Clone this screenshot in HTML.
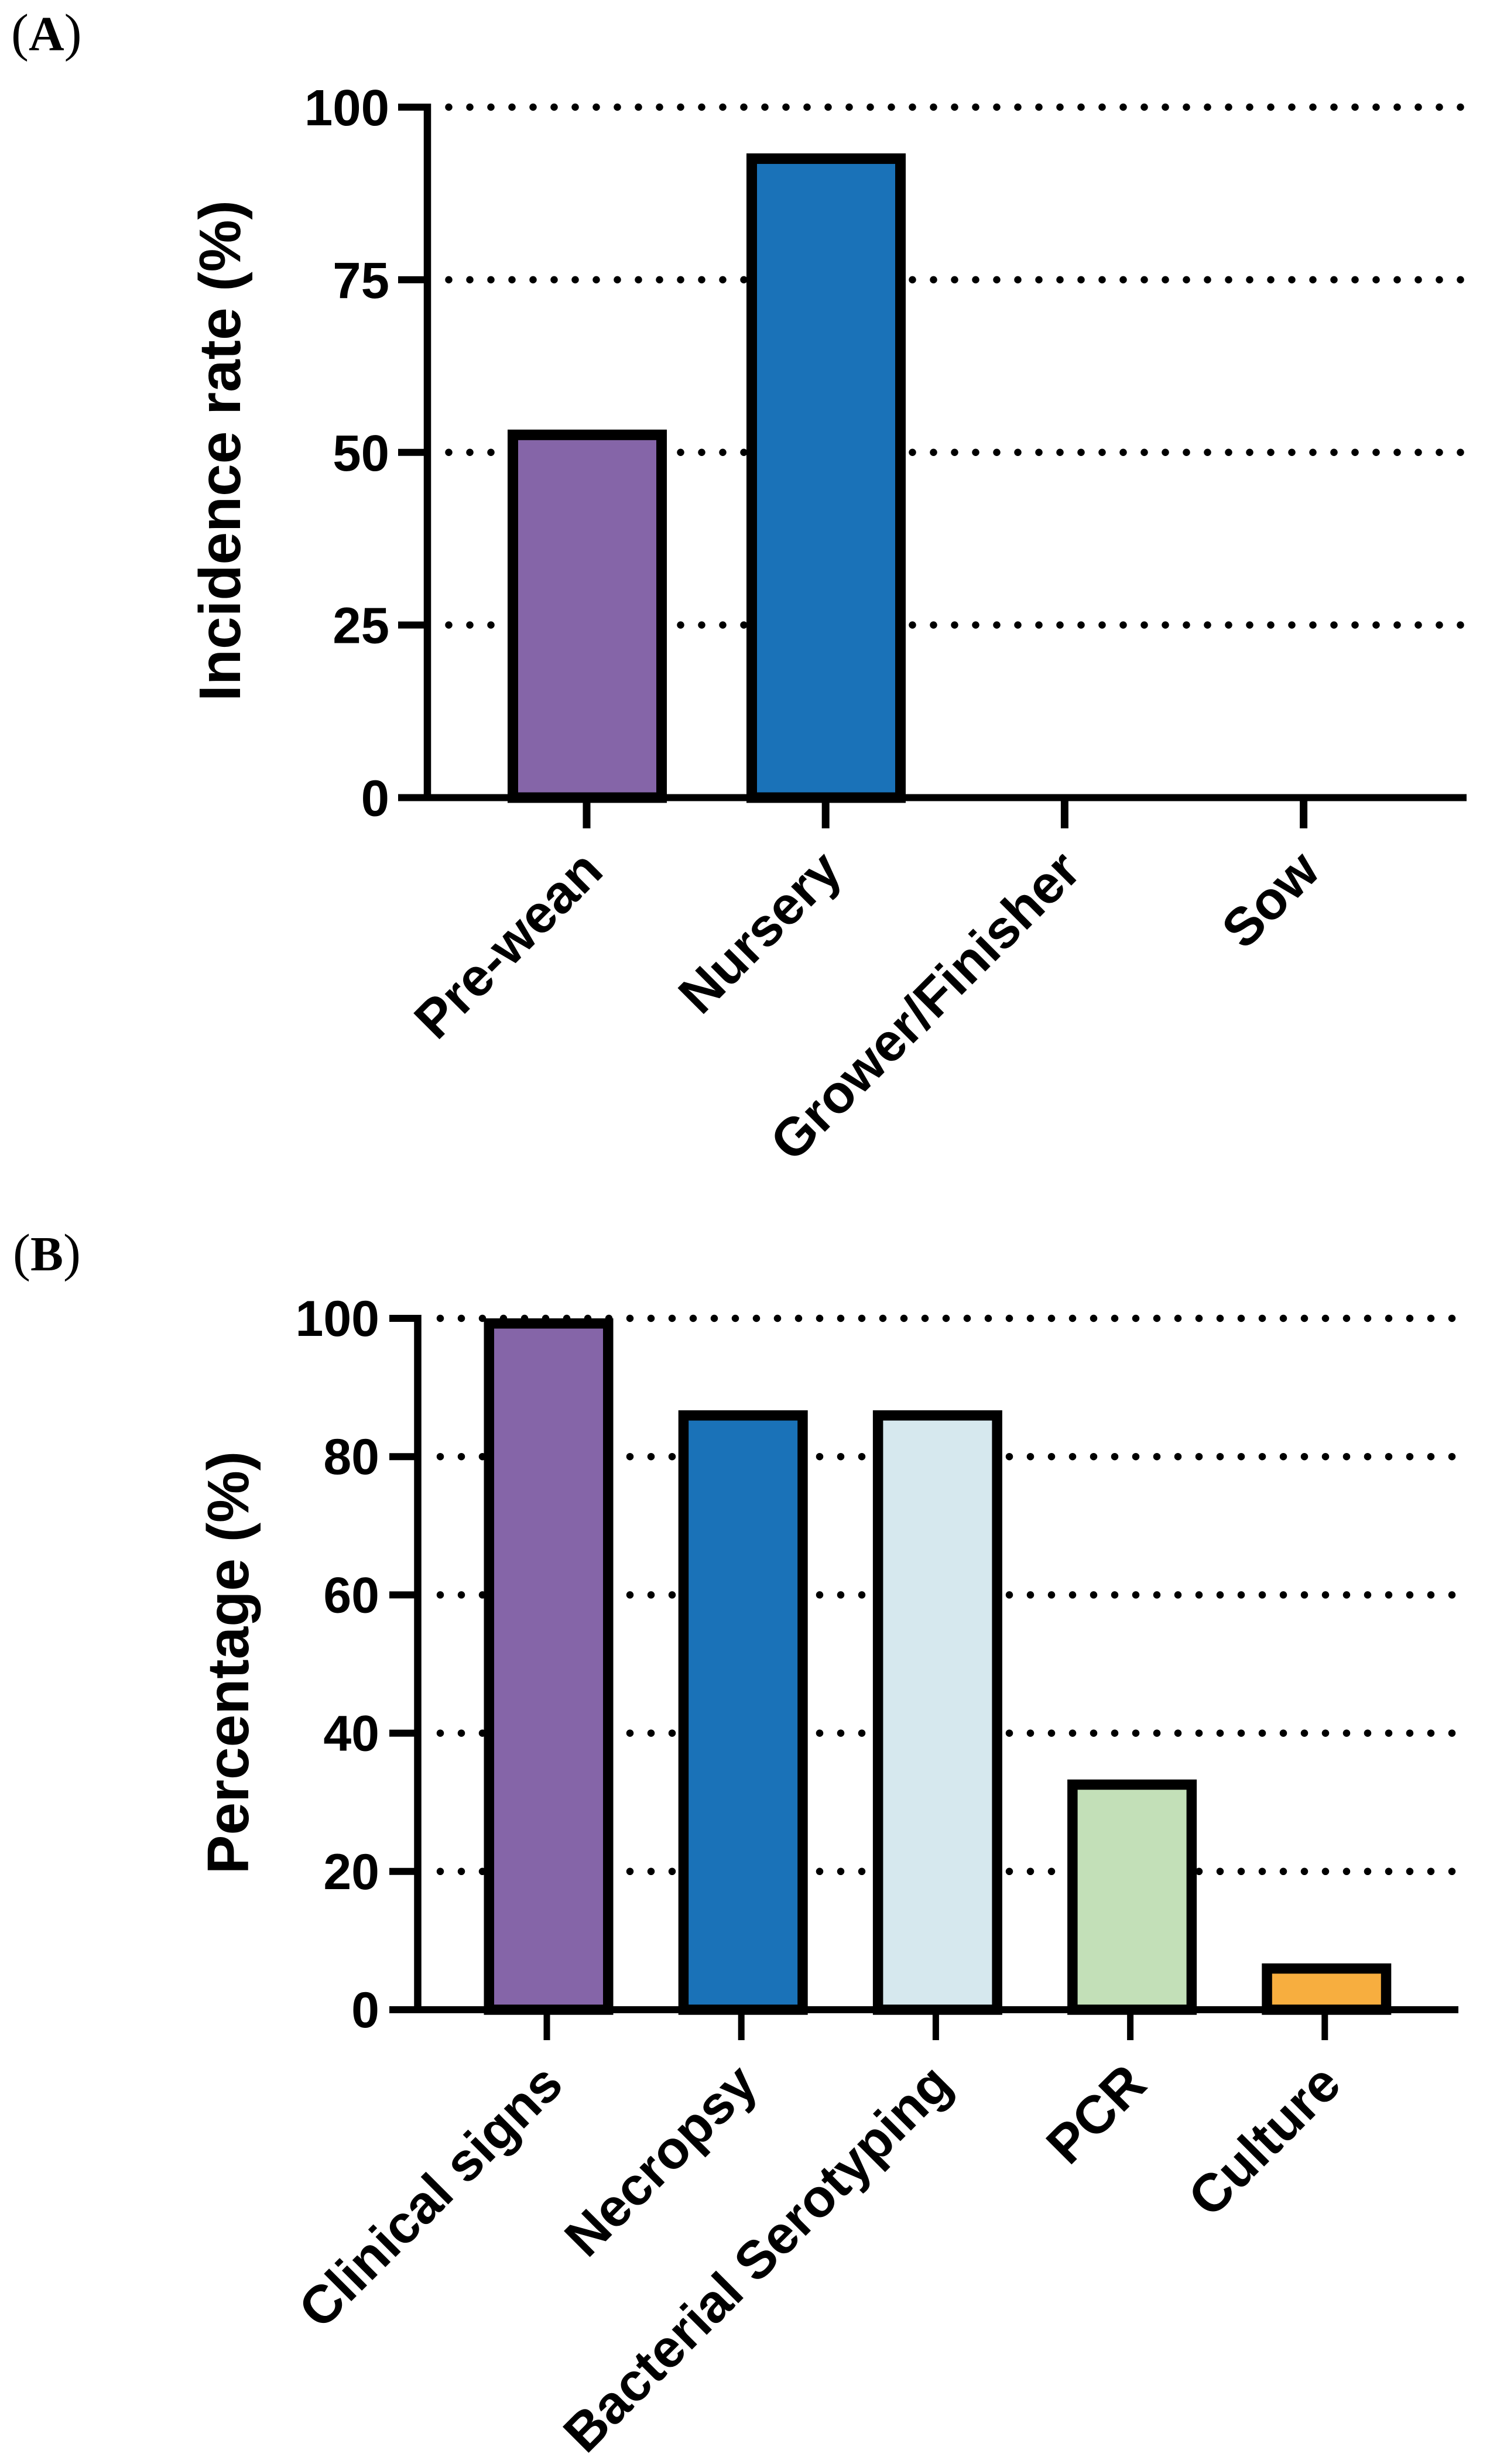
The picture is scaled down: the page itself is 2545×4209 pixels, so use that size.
<!DOCTYPE html>
<html lang="en">
<head>
<meta charset="utf-8">
<title>Incidence rate and diagnostic method percentage bar charts</title>
<style>
html,body{margin:0;padding:0;background:#fff;}
svg{display:block;}
text{font-family:"Liberation Sans",Arial,sans-serif;font-weight:bold;fill:#000;}
.panel{font-family:"Liberation Serif","Times New Roman",serif;font-weight:normal;font-size:90px;}
.panel tspan{font-weight:bold;font-size:84px;}
</style>
</head>
<body>
<svg id="figure" xmlns="http://www.w3.org/2000/svg" width="2545" height="4209" viewBox="0 0 2545 4209">
  <rect x="0" y="0" width="2545" height="4209" fill="#ffffff"/>
  <text class="panel" x="19" y="86">(<tspan>A</tspan>)</text>
  <text class="panel" x="22" y="2170">(<tspan>B</tspan>)</text>
</svg>
<script>
// Panel A data
const categoriesA = ['Pre-wean', 'Nursery', 'Grower/Finisher', 'Sow'];
const valuesA = [53.3, 93.3, 0, 0];
const yTicksA = [0, 25, 50, 75, 100];
const colorsA = ['#8565a8', '#1a72b8', '#d6e8ee', '#c3e0b8'];

// Panel B data
const categoriesB = ['Clinical signs', 'Necropsy', 'Bacterial Serotyping', 'PCR', 'Culture'];
const valuesB = [100, 86.7, 86.7, 33.3, 6.7];
const yTicksB = [0, 20, 40, 60, 80, 100];
const colorsB = ['#8565a8', '#1a72b8', '#d6e8ee', '#c3e0b8', '#f7ae3f'];

const NS = 'http://www.w3.org/2000/svg';
const root = document.getElementById('figure');

function make(tag, attrs, parent) {
  const el = document.createElementNS(NS, tag);
  for (const k in attrs) el.setAttribute(k, attrs[k]);
  parent.appendChild(el);
  return el;
}

function drawChart(cfg) {
  const g = make('g', {}, root);
  
  

  const yMax = cfg.ticks[cfg.ticks.length - 1];
  const yScale = function (v) { return cfg.y0 + (cfg.y100 - cfg.y0) * v / yMax; };
  const barCenter = function (i) { return cfg.barX0 + cfg.step * i; };
  const tickCenter = function (i) { return cfg.tickX0 + cfg.tickStep * i; };

  // dotted gridlines (behind bars)
  cfg.ticks.forEach(function (t) {
    if (t === 0) return;
    const line = make('line', {
      x1: cfg.dotStart, x2: cfg.dotEnd + 1, y1: yScale(t), y2: yScale(t),
      stroke: '#000', 'stroke-width': 12.5, 'stroke-linecap': 'round',
      'stroke-dasharray': '0 ' + cfg.dotGap
    }, g);
    
    
  });

  // bars: border sits inside the bar's value edge
  const sw = cfg.barStroke;
  cfg.values.forEach(function (v, i) {
    const top = yScale(v);
    const bar = make('rect', {
      x: barCenter(i) - cfg.barW / 2 + sw / 2,
      y: top + sw / 2,
      width: cfg.barW - sw,
      height: Math.max(0, cfg.y0 - top - sw / 2),
      fill: cfg.colors[i], stroke: '#000', 'stroke-width': sw
    }, g);
    
    
  });

  // y axis line
  const yAxis = make('line', {
    x1: cfg.axisX, x2: cfg.axisX, y1: yScale(yMax) - 6, y2: cfg.y0 + 6,
    stroke: '#000', 'stroke-width': 12.5
  }, g);
  
  

  // x axis line
  const xAxis = make('line', {
    x1: cfg.tickLeft, x2: cfg.xEnd, y1: cfg.y0, y2: cfg.y0,
    stroke: '#000', 'stroke-width': 12
  }, g);
  
  

  // y ticks and labels
  cfg.ticks.forEach(function (t) {
    const tick = make('line', {
      x1: cfg.tickLeft, x2: cfg.axisX, y1: yScale(t), y2: yScale(t),
      stroke: '#000', 'stroke-width': 12
    }, g);
    
    

    const lab = make('text', {
      x: cfg.labelRight, y: yScale(t) + cfg.yLabelDy, 'text-anchor': 'end',
      'font-size': cfg.tickFont
    }, g);
    
    
    lab.textContent = String(t);
  });

  // x ticks and rotated labels
  cfg.categories.forEach(function (c, i) {
    const slug = c.toLowerCase().replace(/[^a-z]+/g, '-');
    const tick = make('line', {
      x1: tickCenter(i), x2: tickCenter(i), y1: cfg.y0, y2: cfg.tickBottom,
      stroke: '#000', 'stroke-width': cfg.xTickW
    }, g);
    
    

    const ax = tickCenter(i) + cfg.xLabelDx;
    const ay = cfg.xLabelY;
    const lab = make('text', {
      x: ax, y: ay, 'text-anchor': 'end', 'font-size': cfg.xFont,
      transform: 'rotate(-45 ' + ax + ' ' + ay + ')'
    }, g);
    
    
    lab.textContent = c;
  });

  // y axis title
  const tx = cfg.titleX, ty = cfg.titleY;
  const title = make('text', {
    x: tx, y: ty, 'text-anchor': 'middle', 'font-size': cfg.titleFont,
    transform: 'rotate(-90 ' + tx + ' ' + ty + ')'
  }, g);
  
  
  title.textContent = cfg.title;
}

drawChart({
  name: 'incidence-rate-chart', title: 'Incidence rate (%)',
  categories: categoriesA, values: valuesA, ticks: yTicksA, colors: colorsA,
  y0: 1362.5, y100: 183, axisX: 730, tickLeft: 680, xEnd: 2505,
  barX0: 1003, step: 408, barW: 272, barStroke: 18,
  tickX0: 1002, tickStep: 408.2, tickBottom: 1415, xTickW: 13,
  dotStart: 766.5, dotEnd: 2494, dotGap: 36,
  labelRight: 665, yLabelDy: 31, tickFont: 87,
  xFont: 91.5, xLabelDx: 32, xLabelY: 1492,
  titleX: 410, titleY: 770, titleFont: 100
});

drawChart({
  name: 'percentage-chart', title: 'Percentage (%)',
  categories: categoriesB, values: valuesB, ticks: yTicksB, colors: colorsB,
  y0: 3433, y100: 2252, axisX: 713.5, tickLeft: 665, xEnd: 2491,
  barX0: 937, step: 332.2, barW: 221, barStroke: 17.5,
  tickX0: 934, tickStep: 332.2, tickBottom: 3485, xTickW: 11,
  dotStart: 752, dotEnd: 2481, dotGap: 36,
  labelRight: 648, yLabelDy: 30, tickFont: 86,
  xFont: 91.5, xLabelDx: 32, xLabelY: 3565,
  titleX: 424, titleY: 2840, titleFont: 100
});
</script>
</body>
</html>
